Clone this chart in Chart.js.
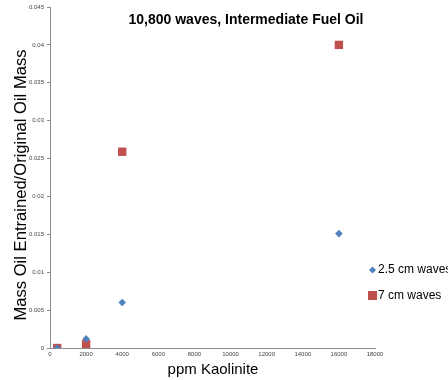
<!DOCTYPE html>
<html>
<head>
<meta charset="utf-8">
<script src="https://cdn.jsdelivr.net/npm/chart.js@4"></script>
<style>
  html, body { margin: 0; padding: 0; background: #fff; }
  #wrap { width: 448px; height: 380px; position: relative; }
</style>
</head>
<body>
<div id="wrap"><canvas id="chart"></canvas></div>
<script>
// ---- data ----
const chartTitle = '10,800 waves, Intermediate Fuel Oil';
const xTitle = 'ppm Kaolinite';
const yTitle = 'Mass Oil Entrained/Original Oil Mass';
const seriesNames = ['2.5 cm waves', '7 cm waves'];
const kaolinite = [400, 2000, 4000, 16000];          // ppm
const smallWaves = [0, 0.0012, 0.006, 0.0151];       // 2.5 cm
const bigWaves = [0, 0.0005, 0.0259, 0.04];          // 7 cm
const xTicks = [0, 2000, 4000, 6000, 8000, 10000, 12000, 14000, 16000, 18000];
const yTicks = [0, 0.005, 0.01, 0.015, 0.02, 0.025, 0.03, 0.035, 0.04, 0.045];

const blue = '#4f81bd';
const red = '#c0504d';
const font = "'Liberation Sans', Arial, sans-serif";

function toPoints(xs, ys) {
    return xs.map((x, i) => ({ x: x, y: ys[i] }));
}

// title, axis titles and legend are drawn by hand so the plot area keeps its size
const overlay = {
    id: 'overlay',
    afterDraw(chart) {
        const ctx = chart.ctx;
        ctx.save();
        ctx.fillStyle = '#000';
        ctx.textAlign = 'center';
        ctx.textBaseline = 'middle';

        ctx.font = 'bold 14px ' + font;
        ctx.fillText(chartTitle, 246, 20);

        ctx.font = '15px ' + font;
        ctx.fillText(xTitle, 213, 370);

        ctx.save();
        ctx.translate(21, 185);
        ctx.rotate(-Math.PI / 2);
        ctx.font = '16.6px ' + font;
        ctx.fillText(yTitle, 0, 0);
        ctx.restore();

        // legend
        ctx.font = '12px ' + font;
        ctx.textAlign = 'left';
        ctx.fillStyle = blue;
        ctx.beginPath();
        ctx.moveTo(372.5, 266.5); ctx.lineTo(376, 270); ctx.lineTo(372.5, 273.5); ctx.lineTo(369, 270);
        ctx.closePath();
        ctx.fill();
        ctx.fillStyle = '#000';
        ctx.fillText(seriesNames[0], 378, 270);

        ctx.fillStyle = red;
        ctx.fillRect(368, 291, 9, 9);
        ctx.fillStyle = '#000';
        ctx.fillText(seriesNames[1], 378, 296);
        ctx.restore();
    }
};

new Chart(document.getElementById('chart'), {
    type: 'scatter',
    data: {
        datasets: [{
            label: seriesNames[0],
            data: toPoints(kaolinite, smallWaves),
            pointStyle: 'rectRot',
            pointRadius: 3.8,
            pointBorderWidth: 0,
            backgroundColor: blue,
            borderColor: blue
        }, {
            label: seriesNames[1],
            data: toPoints(kaolinite, bigWaves),
            pointStyle: 'rect',
            pointRadius: 5.9,
            pointBorderWidth: 0,
            backgroundColor: red,
            borderColor: red
        }]
    },
    options: {
        responsive: true,
        maintainAspectRatio: false,
        animation: false,
        layout: { padding: { top: 7, right: 73, left: 0, bottom: 0 } },
        plugins: {
            legend: { display: false },
            tooltip: { enabled: false }
        },
        scales: {
            x: {
                type: 'linear',
                min: 0,
                max: 18000,
                afterBuildTicks: scale => { scale.ticks = xTicks.map(v => ({ value: v })); },
                afterFit: scale => { scale.height = 32; },
                border: { color: '#8c8c8c', width: 1 },
                grid: { display: true, drawOnChartArea: false, drawTicks: false },
                ticks: {
                    padding: 3,
                    maxRotation: 0,
                    autoSkip: false,
                    color: '#444',
                    font: { size: 6, family: font },
                    callback: v => String(v)
                }
            },
            y: {
                type: 'linear',
                min: 0,
                max: 0.045,
                afterBuildTicks: scale => { scale.ticks = yTicks.map(v => ({ value: v })); },
                afterFit: scale => { scale.width = 50; },
                border: { color: '#8c8c8c', width: 1 },
                grid: { display: true, drawOnChartArea: false, tickLength: 3, color: '#8c8c8c' },
                ticks: {
                    padding: 3,
                    color: '#444',
                    font: { size: 6, family: font },
                    callback: v => String(Number(v.toFixed(3)))
                }
            }
        }
    },
    plugins: [overlay]
});
</script>
</body>
</html>
